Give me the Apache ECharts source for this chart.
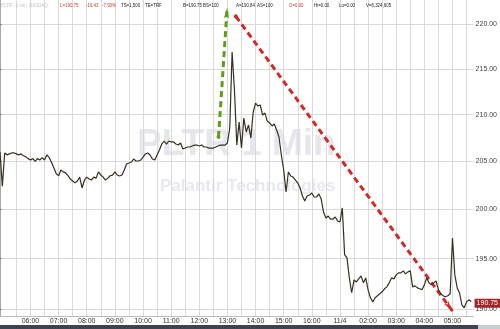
<!DOCTYPE html>
<html>
<head>
<meta charset="utf-8">
<script src="https://cdn.jsdelivr.net/npm/echarts@6/dist/echarts.min.js"></script>
<style>html,body{margin:0;padding:0;background:#fff}#c{width:500px;height:329px}</style>
</head>
<body>
<div id="c"></div>
<script>
// 5-minute slots starting 04:55 (compressed session time)
const prices = [
206.0,202.4,205.9,205.7,205.8,205.9,205.9,205.8,205.7,205.8,
205.6,205.5,205.3,205.15,205.3,205.0,205.3,205.15,205.4,205.15,
205.7,205.4,204.9,204.3,203.7,203.5,204.1,203.9,203.8,203.5,
203.15,202.95,202.75,202.95,203.35,202.22,203.05,203.35,203.15,203.05,
203.35,203.25,203.9,203.57,203.35,203.05,203.25,203.5,203.57,203.9,
203.57,203.47,203.57,204.1,204.73,204.83,204.94,205.26,205.05,205.05,
205.15,205.47,205.79,205.89,205.68,205.26,205.15,205.68,206.21,206.85,
207.17,206.85,207.17,207.07,207.07,206.85,206.74,206.96,206.32,206.42,
206.53,206.53,206.64,206.74,206.74,206.64,206.74,206.53,206.53,206.42,
206.42,206.42,206.53,206.64,206.74,206.74,206.74,206.96,208.56,216.88,
212.68,206.74,209.2,206.42,209.64,208.14,208.88,207.5,210.28,211.26,
210.93,211.05,209.96,210.17,209.31,209.1,208.78,208.99,208.35,207.6,
205.68,204.1,201.8,203.89,203.47,203.36,203.05,202.74,202.22,201.39,
200.87,201.39,201.49,201.7,201.28,201.28,201.6,201.07,199.73,199.12,
199.32,199.01,199.01,199.22,198.81,198.71,200.15,195.37,195.07,193.07,
191.6,192.87,192.67,192.97,193.27,192.58,193.07,191.89,191.1,190.7,
191.1,191.3,191.5,191.69,191.99,192.18,192.58,193.07,192.97,193.37,
193.57,193.57,193.77,193.47,193.67,193.77,192.18,192.28,192.08,191.99,
191.89,192.38,193.07,192.58,192.38,192.58,192.77,191.89,191.5,191.3,
191.2,191.3,191.5,197.08,193.37,192.08,191.6,190.41,190.12,190.7,
190.9,190.75
];
const lastPrice = 190.75;
const hourLabels = ['06:00','07:00','08:00','09:00','10:00','11:00','12:00','13:00','14:00','15:00','16:00','11/4','02:00','03:00','04:00','05:00'];
const firstHourSlot = 13, slotsPerHour = 12, totalSlots = 202;
const yTicks = [190,195,200,205,210,215,220];
const yMin = 189.32, yMax = 222.77;
// annotation arrows: [slot, price]
const greenArrow = [[93.2, 207.6],[96.9, 221.9]];
const redArrow = [[100.6, 220.9],[193.0, 189.8]];
const header = [
  ['PLTR - 1 min  NASDAQ', 1, '#c4c4c4'],
  ['L=190.75', 60, '#c0392b'], ['-16.43', 86, '#c0392b'], ['-7.93%', 102, '#c0392b'],
  ['TS=1,500', 121, '#222'], ['TE=TRF', 145, '#222'],
  ['B=190.75', 183, '#222'], ['BS=100', 203, '#222'],
  ['A=190.84', 236, '#222'], ['AS=100', 257, '#222'],
  ['O=0.00', 289, '#c0392b'], ['Hi=0.00', 314, '#222'], ['Lo=0.00', 339, '#222'],
  ['V=6,324,605', 366, '#222']
];

const hourSlots = hourLabels.map((_, k) => firstHourSlot + k * slotsPerHour);
const halfSlots = [];
for (let s = firstHourSlot - slotsPerHour / 2; s <= totalSlots; s += slotsPerHour / 2) halfSlots.push(s);
const slotLabel = {};
hourSlots.forEach((s, k) => slotLabel[s] = hourLabels[k]);

const L = Math.log;
const chart = echarts.init(document.getElementById('c'), null, {renderer: 'canvas'});
chart.setOption({
  animation: false,
  backgroundColor: '#fff',
  textStyle: {fontFamily: 'Liberation Sans'},
  grid: {left: 0, right: 20, top: 0, bottom: 13, containLabel: false},
  xAxis: {
    type: 'value', min: 0, max: totalSlots,
    axisLine: {show: true, lineStyle: {color: '#bbb'}},
    axisTick: {show: false, customValues: halfSlots},
    splitLine: {show: true, lineStyle: {color: '#dadada', width: 1}},
    axisLabel: {customValues: hourSlots, formatter: v => slotLabel[Math.round(v)] || '',
      fontSize: 7, color: '#333', margin: 2, fontFamily: 'Liberation Sans'}
  },
  yAxis: {
    type: 'value', position: 'right', min: L(yMin), max: L(yMax),
    axisLine: {show: true, lineStyle: {color: '#aaa'}},
    axisTick: {show: true, length: 2, customValues: yTicks.map(L), lineStyle: {color: '#888'}},
    splitLine: {show: true, lineStyle: {color: '#dadada', width: 1}},
    axisLabel: {customValues: yTicks.map(L), formatter: v => Math.exp(v).toFixed(2),
      fontSize: 7, color: '#444', margin: 2, fontFamily: 'Liberation Sans'}
  },
  graphic: [
    {type: 'text', left: 137, top: 126, z: 0, silent: true,
     style: {text: 'PLTR 1 Min', fontSize: 37, fontWeight: 'bold', fontFamily: 'Liberation Sans', fill: '#e6e7ec'}},
    {type: 'text', left: 160, top: 178, z: 0, silent: true,
     style: {text: 'Palantir Technologies', fontSize: 17, fontWeight: 'bold', fontFamily: 'Liberation Sans', fill: '#e8e9ee'}},
    {type: 'rect', shape: {x: 0, y: 325, width: 478, height: 4}, style: {fill: '#3b4450'}, silent: true},
    {type: 'rect', shape: {x: 478, y: 325, width: 22, height: 4}, style: {fill: '#c9ccd1'}, silent: true}
  ].concat(header.map(h => ({
    type: 'text', x: h[1], y: 2, z: 100, silent: true, scaleX: 0.8,
    style: {text: h[0], fontSize: 5.5, fontFamily: 'Liberation Sans', fill: h[2]}
  }))),
  series: [{
    type: 'line', z: 5,
    data: prices.map((p, i) => [i, L(p)]),
    showSymbol: false, symbol: 'none',
    lineStyle: {color: '#35301f', width: 1.2},
    markLine: {
      silent: true, symbol: 'none', animation: false,
      lineStyle: {color: 'transparent', width: 0},
      label: {show: true, position: 'end', formatter: lastPrice.toFixed(2), color: '#fff',
        backgroundColor: '#a3262a', fontSize: 7, padding: [1, 2, 1, 2], distance: 1},
      data: [{yAxis: L(lastPrice)}]
    }
  }, {
    type: 'line', z: 10, data: [],
    markLine: {
      silent: true, animation: false,
      symbol: ['circle', 'arrow'], symbolSize: [4, 11],
      label: {show: false},
      data: [
        [{coord: [greenArrow[0][0], L(greenArrow[0][1])], lineStyle: {color: '#5e9e16', width: 3, type: [6, 4]}, itemStyle: {color: '#5e9e16'}},
         {coord: [greenArrow[1][0], L(greenArrow[1][1])]}],
        [{coord: [redArrow[0][0], L(redArrow[0][1])], lineStyle: {color: '#cf2a27', width: 3, type: [6, 4]}, itemStyle: {color: '#cf2a27'}},
         {coord: [redArrow[1][0], L(redArrow[1][1])]}]
      ]
    }
  }]
});
</script>
</body>
</html>
